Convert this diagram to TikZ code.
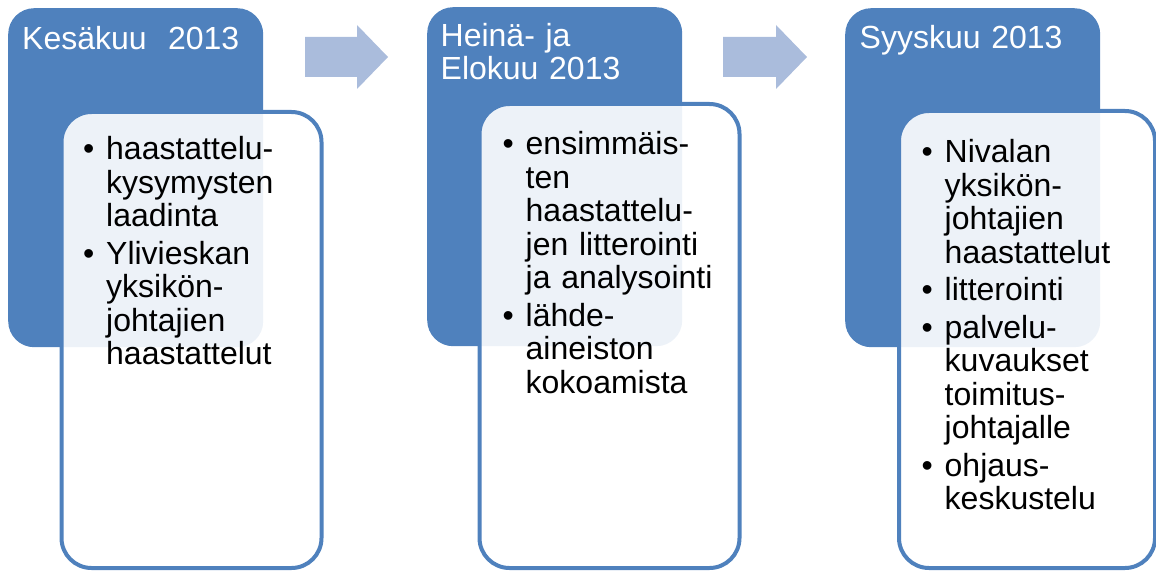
\documentclass[tikz,border=0pt]{standalone}
\usepackage{fontspec}
\setmainfont{Liberation Sans}
\definecolor{sininen}{HTML}{4F81BD}
\definecolor{vaalea}{HTML}{AABCDC}

\newcommand{\kohta}[1]{\noindent\hangindent=23pt\hangafter=1\makebox[23pt][l]{\textbullet}#1\par}

\begin{document}
\begin{tikzpicture}[x=1pt, y=-1pt,
  kuukausi/.style={fill=sininen, rounded corners=26pt, minimum width=255pt, minimum height=339pt, inner sep=0pt},
  sisalto/.style={draw=sininen, line width=4pt, fill=white, fill opacity=0.9, rounded corners=30pt, minimum width=260pt, inner sep=0pt},
  otsikko/.style={text=white, inner sep=0pt, text width=235pt, align=left, font={\fontsize{32}{33}\selectfont}},
  teksti/.style={inner sep=0pt, text width=250pt, align=left, font={\fontsize{32}{33.5}\selectfont\setlength{\parskip}{4pt}}},
  nuoli/.style={fill=vaalea}]
\useasboundingbox (0,0) rectangle (1156,572);

% kesakuu
\node[kuukausi, anchor=north west] (kesa) at (8,8) {};
\node[sisalto, anchor=north west, minimum height=456pt] (kesa-s) at (59.5,110) {};
\node[otsikko, anchor=base west] (kesa-o) at (22,50) {Kesäkuu\ \ 2013};
\node[teksti, anchor=base west] (kesa-t) at (83,160)
  {\kohta{haastattelu-\newline kysymysten\newline laadinta}
   \kohta{Ylivieskan\newline yksikön-\newline johtajien\newline haastattelut}};

% heina- ja elokuu
\node[kuukausi, anchor=north west] (heina) at (427,7) {};
\node[sisalto, anchor=north west, minimum height=464pt] (heina-s) at (477.5,102) {};
\node[otsikko, anchor=base west] (heina-o) at (440.5,47) {Heinä- ja\\Elokuu 2013};
\node[teksti, anchor=base west] (heina-t) at (502.5,155)
  {\kohta{ensimmäis-\newline ten\newline haastattelu-\newline jen litterointi\newline ja analysointi}
   \kohta{lähde-\newline aineiston\newline kokoamista}};

% syyskuu
\node[kuukausi, anchor=north west] (syys) at (845,8) {};
\node[sisalto, anchor=north west, minimum width=256pt, minimum height=457pt] (syys-s) at (897,109) {};
\node[otsikko, anchor=base west] (syys-o) at (859.5,49) {Syyskuu 2013};
\node[teksti, anchor=base west] (syys-t) at (921.5,163)
  {\kohta{Nivalan\newline yksikön-\newline johtajien\newline haastattelut}
   \kohta{litterointi}
   \kohta{palvelu-\newline kuvaukset\newline toimitus-\newline johtajalle}
   \kohta{ohjaus-\newline keskustelu}};

% nuolet
\fill[nuoli] (305,37) -- (357,37) -- (357,25) -- (388,57) -- (357,89) -- (357,77) -- (305,77) -- cycle;
\fill[nuoli] (723,37) -- (776,37) -- (776,25) -- (807,57) -- (776,89) -- (776,77) -- (723,77) -- cycle;
\end{tikzpicture}
\end{document}
